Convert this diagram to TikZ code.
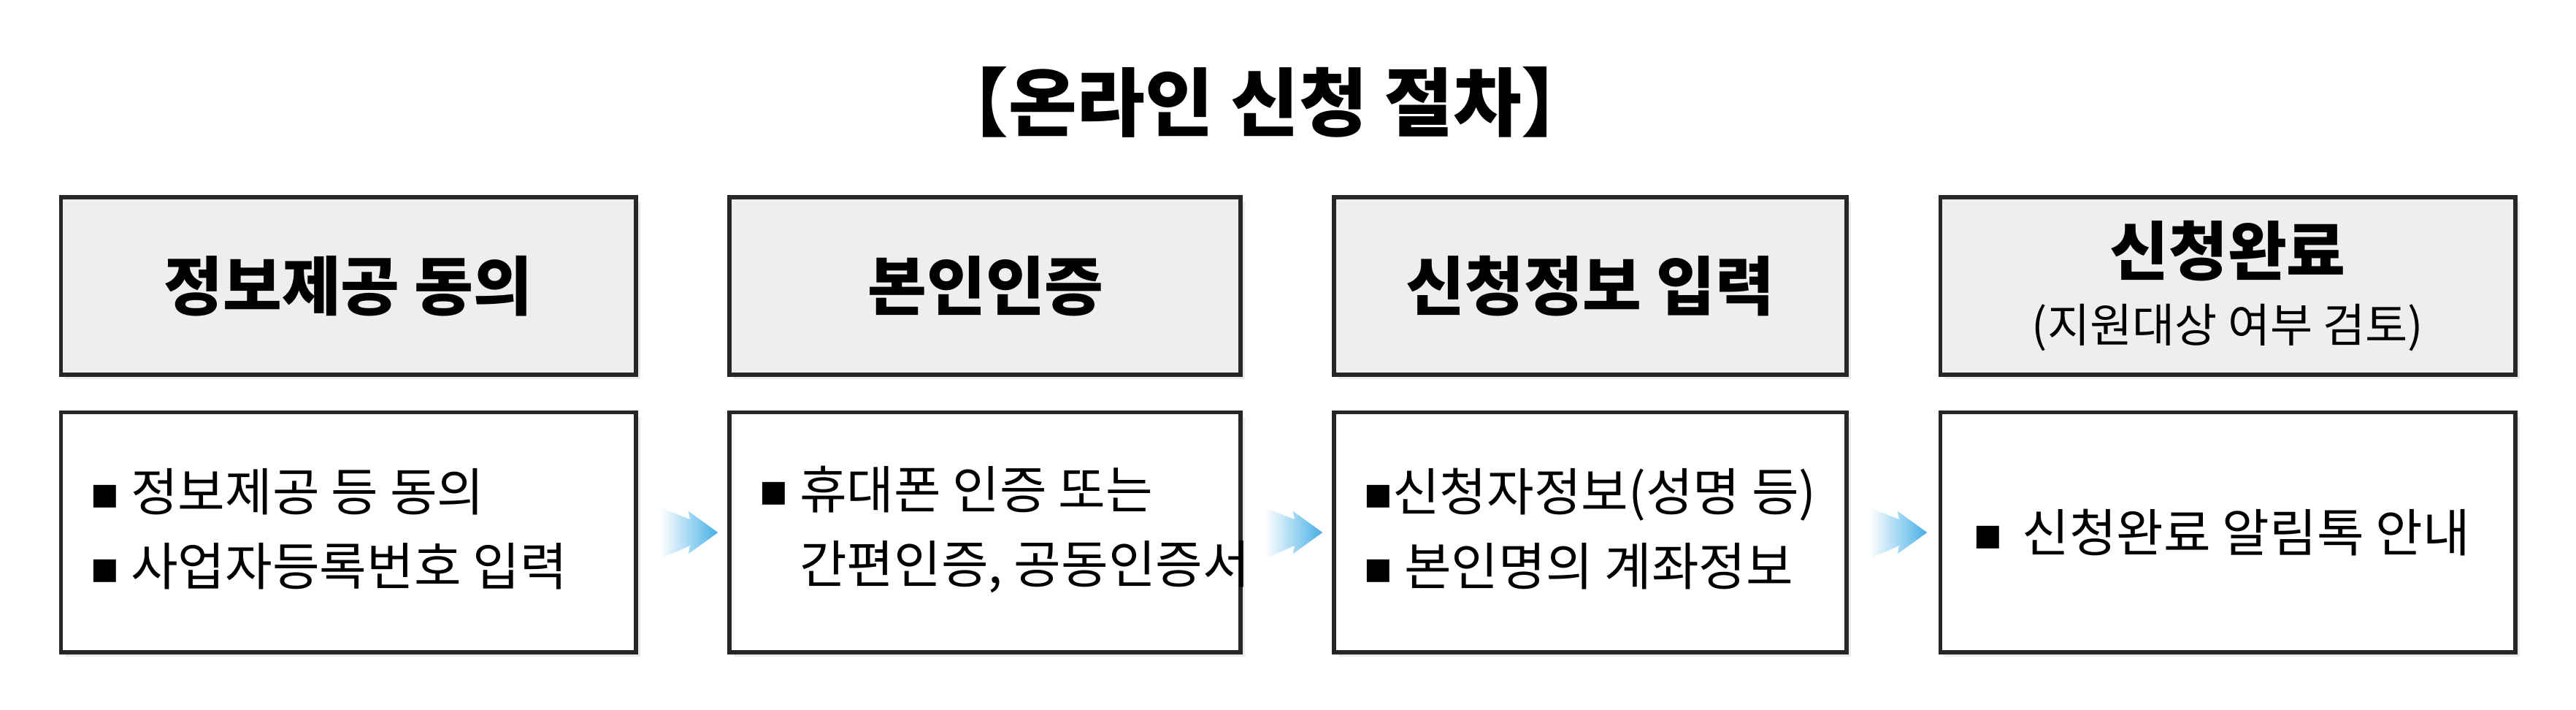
\documentclass[tikz,border=0pt]{standalone}
\usepackage{fontspec}
\setmainfont{Noto Sans CJK KR}
\usetikzlibrary{shadows}
\definecolor{headfill}{RGB}{238,238,238}
\definecolor{flowblue}{RGB}{70,175,230}
\newcommand{\sqbul}{{\fontsize{11}{11}\selectfont\raisebox{0.25ex}{■}}}
\begin{document}
\begin{tikzpicture}[x=0.0225cm, y=-0.0225cm,
    box/.style={draw=black!85, line width=0.55mm, drop shadow={opacity=0.15, shadow xshift=0.6mm, shadow yshift=-0.6mm}},
    headbox/.style={box, fill=headfill},
    bodybox/.style={box, fill=white},
    headtext/.style={font=\fontsize{25}{30}\selectfont\bfseries, align=center},
    bodytext/.style={font=\fontsize{20}{29}\selectfont, align=left, anchor=west},
    flowarrow/.style={left color=white, right color=flowblue, draw=none}]
\useasboundingbox (0,0) rectangle (1568,432);
\fill[white] (0,0) rectangle (1568,432);
% title
\node[font=\fontsize{29}{34}\selectfont\bfseries] (title) at (770,62) {【온라인 신청 절차】};
% header row
\path[headbox] (37,120) rectangle (387,228);
\path[headbox] (444,120) rectangle (755,228);
\path[headbox] (812,120) rectangle (1124,228);
\path[headbox] (1181,120) rectangle (1531,228);
\node[headtext] (h1) at (212,174) {정보제공 동의};
\node[headtext] (h2) at (600,174) {본인인증};
\node[headtext] (h3) at (968,174) {신청정보 입력};
\node[headtext] (h4) at (1356,174) {신청완료\\[-4pt]{\fontsize{18}{22}\selectfont\mdseries (지원대상 여부 검토)}};
% body row
\path[bodybox] (37,251) rectangle (387,397);
\path[bodybox] (444,251) rectangle (755,397);
\path[bodybox] (812,251) rectangle (1124,397);
\path[bodybox] (1181,251) rectangle (1531,397);
\node[bodytext] (b1) at (50,322) {\sqbul\ 정보제공 등 동의\\\sqbul\ 사업자등록번호 입력};
\node[bodytext] (b2) at (457,322) {\sqbul\ 휴대폰 인증 또는\\\phantom{\sqbul\ }간편인증, 공동인증서};
\node[bodytext] (b3) at (825,322) {\sqbul 신청자정보(성명 등)\\\sqbul\ 본인명의 계좌정보};
\node[bodytext] (b4) at (1196,324) {\sqbul\ \,신청완료 알림톡 안내};
% arrows
\foreach \ax in {402,770,1138}
  \shade[flowarrow] (\ax,309) -- (\ax+18,316) -- (\ax+17,311) -- (\ax+35,324) -- (\ax+17,337) -- (\ax+18,332) -- (\ax,340) -- cycle;
\end{tikzpicture}
\end{document}
